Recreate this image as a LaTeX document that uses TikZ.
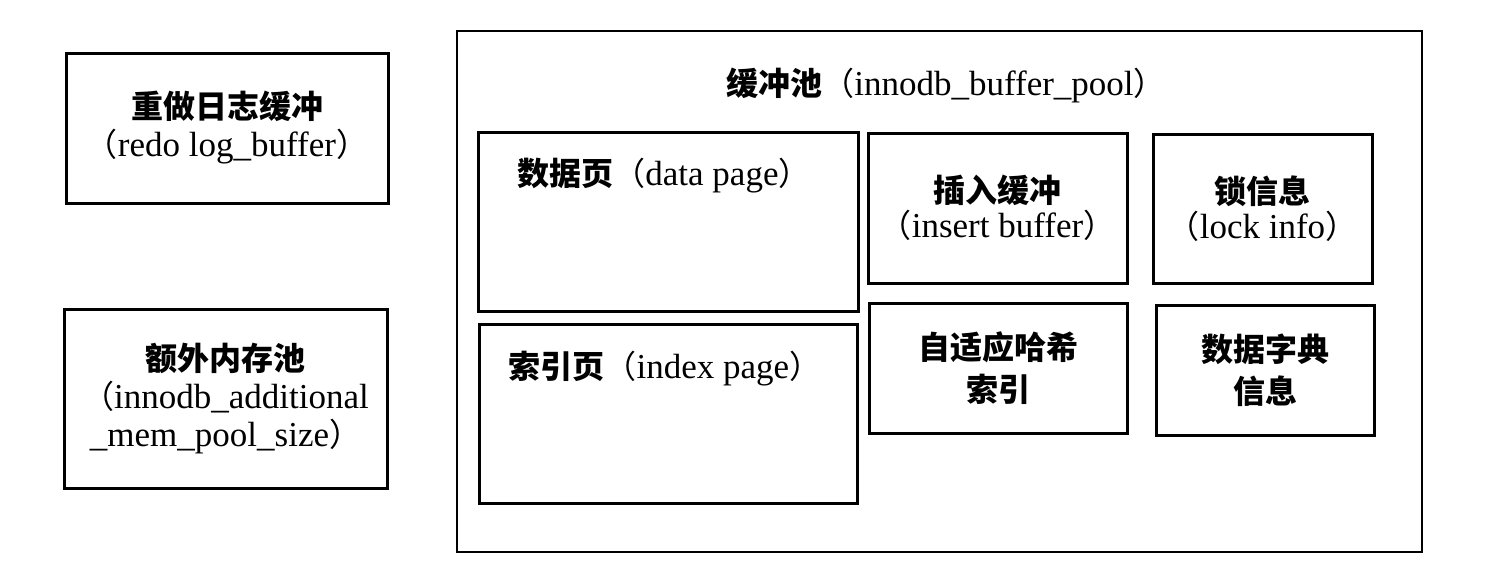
\documentclass[tikz,border=0pt]{standalone}
\usepackage{fontspec}
\setmainfont{Liberation Serif}
\newfontfamily\cjk{Noto Sans CJK SC}
\newcommand\zh[1]{{\cjk\bfseries\fontsize{32}{38}\selectfont #1}}
\newcommand\lp{{\cjk\fontsize{32}{38}\selectfont （}}
\newcommand\rp{{\cjk\fontsize{32}{38}\selectfont ）}}
\begin{document}
\begin{tikzpicture}[x=1pt,y=-1pt,
  box/.style={draw=black,line width=3pt,inner sep=0pt,align=center,
    font=\fontsize{35}{38}\selectfont},
  txt/.style={inner sep=0pt,align=center,font=\fontsize{35}{38}\selectfont}]
\fill[white] (0,0) rectangle (1486,570);
\useasboundingbox (0,0) rectangle (1486,570);
% left boxes
\node[box,minimum width=322pt,minimum height=150pt] (redo) at (227,128)
  {\zh{重做日志缓冲}\\\lp redo log\_buffer\rp};
\node[box,minimum width=323pt,minimum height=179pt] (extra) at (225.5,398.5)
  {\zh{额外内存池}\\\lp innodb\_additional\\\_mem\_pool\_size\rp};
% buffer pool
\node[box,line width=2.5pt,minimum width=965pt,minimum height=521pt] (pool) at (939.5,291.5) {};
\node[txt,anchor=base] (pooltitle) at (946,95) {\zh{缓冲池}\lp innodb\_buffer\_pool\rp};
\node[box,minimum width=380pt,minimum height=179pt] (data) at (668,221.5) {};
\node[txt,anchor=base] (datatext) at (664,185) {\zh{数据页}\lp data page\rp};
\node[box,minimum width=378pt,minimum height=179pt] (index) at (668,413.5) {};
\node[txt,anchor=base] (indextext) at (665,378) {\zh{索引页}\lp index page\rp};
\node[box,minimum width=259pt,minimum height=150pt] (insert) at (997.5,208)
  {\zh{插入缓冲}\\[-3pt]\lp insert buffer\rp};
\node[box,minimum width=219pt,minimum height=149pt] (lock) at (1262.5,208.5)
  {\zh{锁信息}\\[-3pt]\lp lock info\rp};
\node[box,minimum width=258pt,minimum height=130pt] (hash) at (998,368)
  {\zh{自适应哈希}\\[4pt]\zh{索引}};
\node[box,minimum width=218pt,minimum height=130pt] (dict) at (1265,370)
  {\zh{数据字典}\\[4pt]\zh{信息}};
\end{tikzpicture}
\end{document}
